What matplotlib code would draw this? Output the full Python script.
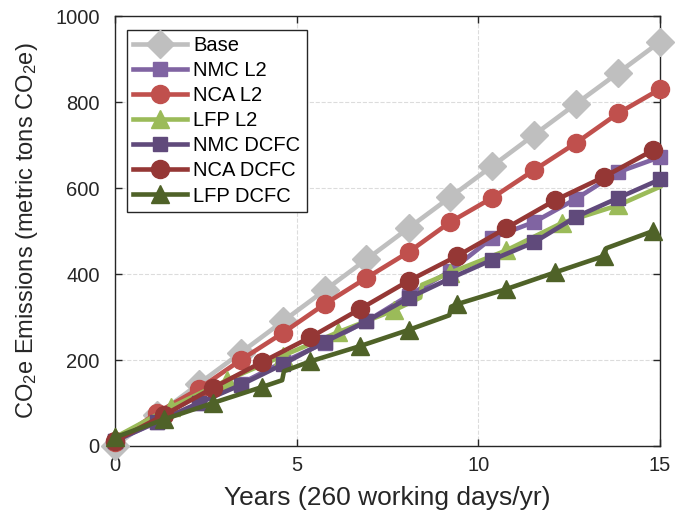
import numpy as np
import matplotlib
matplotlib.use("Agg")
import matplotlib.pyplot as plt

plt.rcParams['font.family'] = ['Liberation Sans', 'DejaVu Sans']
plt.rcParams['mathtext.fontset'] = 'custom'
plt.rcParams['mathtext.rm'] = 'Liberation Sans'
plt.rcParams['mathtext.it'] = 'Liberation Sans:italic'

# marker spacing: every 300 / 350 / 400 working days
yrs_300 = [0, 1.15, 2.31, 3.46, 4.62, 5.77, 6.92, 8.08, 9.23, 10.38, 11.54, 12.69, 13.85, 15.0]
yrs_350 = [0, 1.35, 2.69, 4.04, 5.38, 6.73, 8.08, 9.42, 10.77, 12.12, 13.46, 14.81]

base = [0, 72, 145, 217, 290, 362, 434, 507, 579, 651, 724, 796, 868, 940]
nmc_l2 = [12, 55, 100, 145, 195, 240, 290, 350, 407, 484, 521, 575, 637, 672]
nca_l2 = [10, 77, 133, 200, 263, 330, 391, 451, 521, 577, 642, 705, 774, 830]
nmc_dcfc = [12, 56, 100, 142, 190, 242, 290, 344, 390, 433, 474, 533, 577, 620]
nca_dcfc = [12, 72, 135, 195, 253, 318, 384, 442, 507, 572, 626, 688]

# LFP L2 with a step around year 8.4
lfp_l2_yr = [0, 1.54, 3.08, 4.62, 6.15, 7.69, 8.4, 8.45, 9.23, 10.77, 12.31, 13.85, 15.0]
lfp_l2 = [20, 90, 153, 210, 265, 316, 345, 375, 403, 455, 519, 560, 603]
lfp_l2_mk = [0, 1, 2, 3, 4, 5, 8, 9, 10, 11]

# LFP DCFC with steps (pack replacements)
lfp_dcfc_yr = [0, 1.35, 2.69, 4.04, 4.6, 4.65, 5.38, 6.73, 8.08, 9.2, 9.25, 9.42,
               10.77, 12.12, 13.46, 13.52, 14.81]
lfp_dcfc = [20, 62, 100, 137, 153, 174, 197, 232, 270, 304, 324, 330,
            365, 404, 442, 460, 500]
lfp_dcfc_mk = [0, 1, 2, 3, 6, 7, 8, 11, 12, 13, 14, 16]

series = [
    ('Base', yrs_300, base, None, '#BFBFBF', 'D', 14.5),
    ('NMC L2', yrs_300, nmc_l2, None, '#8064A2', 's', 9.5),
    ('NCA L2', yrs_300, nca_l2, None, '#C0504D', 'o', 13),
    ('LFP L2', lfp_l2_yr, lfp_l2, lfp_l2_mk, '#9BBB59', '^', 12.5),
    ('NMC DCFC', yrs_300, nmc_dcfc, None, '#604A7B', 's', 9.5),
    ('NCA DCFC', yrs_350, nca_dcfc, None, '#953735', 'o', 13),
    ('LFP DCFC', lfp_dcfc_yr, lfp_dcfc, lfp_dcfc_mk, '#4F6228', '^', 12.5),
]

fig = plt.figure(figsize=(6.88, 5.18), dpi=100)
ax = fig.add_axes([0.1672, 0.139, 0.7921, 0.830])

for name, x, y, mk, c, m, ms in series:
    ax.plot(x, y, color=c, lw=3.3, marker=m, ms=ms, mfc=c, mec=c,
            markevery=mk, label=name, solid_joinstyle='round', clip_on=False)

ax.set_xlim(0, 15)
ax.set_ylim(0, 1000)
ax.set_xticks([0, 5, 10, 15])
ax.set_yticks(range(0, 1001, 200))
ax.tick_params(direction='in', length=5, width=1, labelsize=14.5,
               top=True, right=True, colors='#262626', labelcolor='#262626')
ax.tick_params(axis='x', pad=7)
ax.tick_params(axis='y', pad=11)
ax.grid(True, ls='--', color='#dcdcdc', lw=0.8)
ax.set_axisbelow(True)
for s in ax.spines.values():
    s.set_color('#262626')
    s.set_linewidth(1)
    s.set_zorder(1)

ax.set_xlabel('Years (260 working days/yr)', fontsize=19, color='#262626', labelpad=8)
ax.set_ylabel('CO$_2$e Emissions (metric tons CO$_2$e)', fontsize=17, color='#262626',
              labelpad=11)

leg = ax.legend(loc='upper left', bbox_to_anchor=(0.022, 0.967), borderaxespad=0,
                fontsize=14.5, handlelength=2.7, fancybox=False, framealpha=1,
                edgecolor='#262626', borderpad=0.3, labelspacing=0.3,
                handletextpad=0.3)
leg.get_frame().set_linewidth(1)
leg.set_zorder(5)

fig.savefig('out.png', dpi=100)
